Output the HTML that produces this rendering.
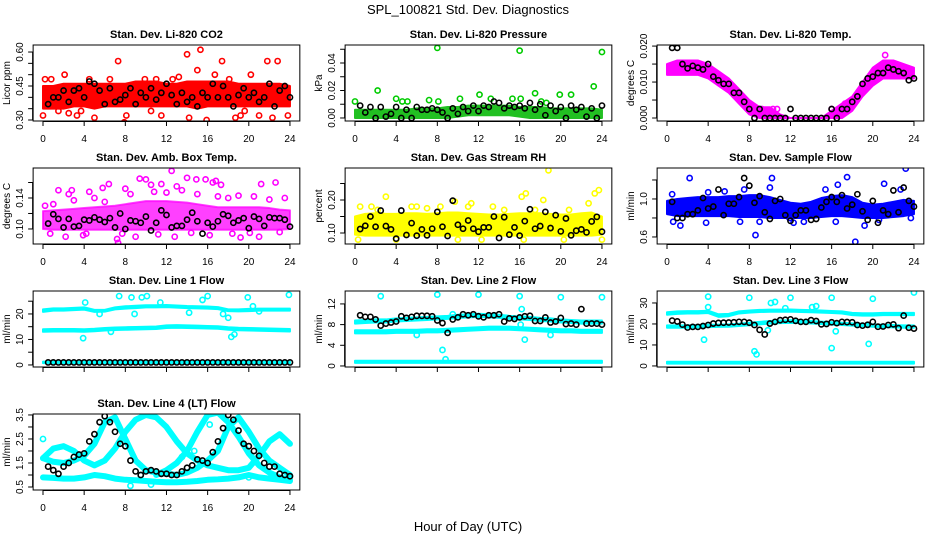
<!DOCTYPE html>
<html><head><meta charset="utf-8"><title>SPL_100821 Std. Dev. Diagnostics</title>
<style>
html,body{margin:0;padding:0;background:#fff;}
svg{display:block;font-family:"Liberation Sans",Arial,sans-serif;}
</style></head>
<body>
<svg id="chart" width="936" height="540" viewBox="0 0 936 540">
<text x="468" y="14" font-size="13" text-anchor="middle">SPL_100821  Std. Dev. Diagnostics</text>
<text x="468" y="531" font-size="13" text-anchor="middle">Hour of Day (UTC)</text>
</svg>
<script>
// ---------- shared data ----------
const blackHours=[0.5,1,1.5,2,2.5,3,3.5,4,4.5,5,5.5,6,6.5,7,7.5,8,8.5,9,9.5,10,10.5,11,11.5,12,12.5,13,13.5,14,14.5,15,15.5,16,16.5,17,17.5,18,18.5,19,19.5,20,20.5,21,21.5,22,22.5,23,23.5,24];
const bandHours=[0,1,2,3,4,5,6,7,8,9,10,11,12,13,14,15,16,17,18,19,20,21,22,23,24];
const xTicks=[0,4,8,12,16,20,24];

// ---------- CO2 ----------
const co2Black=[0.37,0.40,0.40,0.43,0.38,0.43,0.44,0.40,0.47,0.46,0.43,0.37,0.44,0.38,0.39,0.41,0.44,0.37,0.42,0.40,0.44,0.39,0.42,0.46,0.41,0.37,0.42,0.38,0.40,0.36,0.42,0.40,0.46,0.40,0.45,0.40,0.36,0.41,0.44,0.40,0.42,0.38,0.40,0.46,0.36,0.43,0.45,0.40];
const co2Low=[0.35,0.35,0.35,0.36,0.36,0.35,0.36,0.36,0.36,0.36,0.36,0.36,0.36,0.36,0.36,0.35,0.36,0.36,0.36,0.36,0.36,0.36,0.36,0.36,0.36];
const co2High=[0.45,0.45,0.46,0.46,0.46,0.46,0.46,0.46,0.46,0.47,0.47,0.47,0.46,0.46,0.47,0.47,0.47,0.47,0.47,0.46,0.46,0.46,0.46,0.46,0.45];
const co2OutHours=[0,0.2,0.8,2.1,2.5,3.3,5,7.3,7.9,8.1,11.5,13.2,14,14.2,15,15.3,15.9,16.1,16.7,17.4,18.7,19.2,20.2,21,21.8,22.3,22.8,23.8,9.9,11,6.5,4.5,1.5,3.7,10.5,12.6,18.1,19.6];
const co2OutVals=[0.32,0.48,0.48,0.50,0.33,0.32,0.31,0.56,0.29,0.32,0.32,0.49,0.59,0.31,0.52,0.61,0.30,0.65,0.50,0.56,0.31,0.32,0.50,0.32,0.56,0.31,0.56,0.32,0.48,0.48,0.48,0.48,0.34,0.34,0.34,0.48,0.48,0.34];

// ---------- Pressure ----------
const presBlack=[0.009,0.004,0.008,0.000,0.008,0.001,0.003,0.008,0.000,0.006,0.000,0.008,0.006,0.006,0.007,0.006,0.004,0.000,0.007,0.003,0.008,0.005,0.009,0.005,0.009,0.008,0.012,0.011,0.007,0.009,0.008,0.009,0.007,0.011,0.006,0.010,0.002,0.009,0.005,0.008,0.000,0.009,0.006,0.008,0.001,0.007,0.000,0.009];
const presLow=[0,0,0,0,0,0,0,0,0,0,0.001,0.002,0.002,0.002,0.002,0.002,0.001,0,0,0,0,0,0,0,0];
const presHigh=[0.006,0.006,0.006,0.006,0.006,0.006,0.007,0.007,0.007,0.008,0.008,0.009,0.009,0.009,0.009,0.009,0.008,0.008,0.008,0.007,0.007,0.007,0.007,0.007,0.006];
const presOutHours=[0,2.2,4,4.6,5.1,7.2,8,8.1,10.2,12.1,13.2,15.3,16,16.1,17.5,18.1,19.9,21,23.2,24,18.6];
const presOutVals=[0.012,0.020,0.014,0.012,0.012,0.013,0.051,0.012,0.014,0.017,0.014,0.014,0.049,0.014,0.018,0.012,0.017,0.017,0.023,0.048,0.011];

// ---------- Li-820 Temp ----------
const tempBlack=[0.0195,0.0195,0.015,0.0138,0.0145,0.014,0.0135,0.015,0.0115,0.0105,0.0095,0.0095,0.007,0.007,0.0045,0.0025,0,0.0025,0,0,0,0,0,0.0025,0,0,0,0,0,0,0,0.0025,0,0.0025,0.0025,0.0045,0.006,0.0095,0.011,0.0115,0.0125,0.0125,0.014,0.0135,0.013,0.0125,0.0105,0.011];
const tempLow=[0.012,0.012,0.012,0.012,0.011,0.009,0.007,0.004,0.001,0,0,0,0,0,0,0,0,0,0.002,0.006,0.009,0.011,0.011,0.011,0.011];
const tempHigh=[0.015,0.016,0.016,0.016,0.015,0.013,0.011,0.008,0.005,0.003,0.003,0.001,0,0,0,0,0.002,0.004,0.006,0.010,0.014,0.016,0.016,0.015,0.014];
const tempOutHours=[10.3,10.7,16,17.3,18.8,21.2,8.5,9.2];
const tempOutVals=[0.0025,0.0025,0.0025,0.004,0.007,0.0175,0.0025,0.0025];

// ---------- Amb box temp ----------
const ambBlack=[0.107,0.119,0.113,0.102,0.113,0.103,0.104,0.112,0.111,0.115,0.112,0.109,0.114,0.102,0.120,0.100,0.111,0.110,0.108,0.116,0.098,0.108,0.124,0.118,0.102,0.104,0.104,0.112,0.121,0.110,0.094,0.108,0.103,0.110,0.119,0.117,0.108,0.111,0.114,0.101,0.116,0.113,0.104,0.115,0.114,0.114,0.112,0.103];
const ambLow=[0.100,0.099,0.099,0.099,0.099,0.099,0.099,0.099,0.099,0.099,0.099,0.099,0.099,0.099,0.099,0.099,0.099,0.099,0.099,0.099,0.099,0.099,0.099,0.099,0.100];
const ambHigh=[0.123,0.124,0.125,0.126,0.127,0.128,0.129,0.130,0.132,0.134,0.136,0.136,0.136,0.135,0.134,0.132,0.130,0.128,0.128,0.128,0.128,0.128,0.127,0.125,0.124];
const ambOutHours=[1.5,2.5,2.8,4.5,5.8,6.4,7.2,7.3,8,9.4,10,10.5,11.5,12.5,13,14,14.9,15.8,16.5,16.8,17.3,19.2,21.2,22.6,2.2,3.9,16.2,21,9,12.8,0.2,1,3,5,6,8.5,10.8,12,13.5,15,17,18,19,20.5,22,23.5,0.7,4.2,7.7,11.2,14.4,18.4,20.1,23];
const ambOutVals=[0.150,0.145,0.150,0.148,0.153,0.158,0.087,0.082,0.152,0.165,0.164,0.157,0.158,0.175,0.155,0.166,0.164,0.164,0.160,0.162,0.157,0.089,0.158,0.160,0.090,0.092,0.092,0.090,0.090,0.090,0.130,0.132,0.137,0.140,0.135,0.145,0.148,0.147,0.150,0.145,0.142,0.140,0.143,0.142,0.138,0.140,0.094,0.094,0.094,0.093,0.095,0.094,0.095,0.096];

// ---------- Gas stream RH ----------
const rhBlack=[0.112,0.122,0.150,0.119,0.168,0.121,0.111,0.083,0.168,0.094,0.130,0.092,0.111,0.093,0.113,0.164,0.119,0.091,0.198,0.125,0.113,0.138,0.113,0.104,0.117,0.117,0.150,0.085,0.148,0.095,0.117,0.092,0.136,0.172,0.113,0.121,0.164,0.115,0.154,0.105,0.144,0.093,0.107,0.111,0.102,0.135,0.149,0.104];
const rhLow=[0.095,0.092,0.092,0.092,0.092,0.092,0.092,0.092,0.092,0.092,0.092,0.092,0.092,0.092,0.092,0.092,0.092,0.092,0.092,0.092,0.092,0.092,0.092,0.092,0.095];
const rhHigh=[0.150,0.158,0.160,0.158,0.158,0.160,0.160,0.158,0.160,0.162,0.162,0.160,0.158,0.156,0.156,0.158,0.160,0.160,0.160,0.158,0.156,0.156,0.160,0.162,0.150];
const rhOutHours=[0.5,1.6,3,5.5,6,8.3,9.7,11,11.3,13.4,16.2,16.6,17.5,18.3,18.8,22.7,23.3,23.7,0.3,4,10,12.3,16.4,20.3,24,2.2,7,14.5,20.8];
const rhOutVals=[0.18,0.18,0.21,0.18,0.18,0.18,0.195,0.18,0.19,0.18,0.21,0.22,0.17,0.20,0.29,0.19,0.22,0.23,0.08,0.08,0.08,0.08,0.08,0.08,0.08,0.17,0.175,0.17,0.17];

// ---------- Sample flow ----------
const flowBlack=[0.97,0.80,0.80,0.84,0.84,0.88,1.01,0.90,0.92,1.10,0.83,0.95,0.95,1.02,1.22,1.14,0.96,1.03,0.86,0.79,0.98,1.00,0.83,0.77,0.83,0.88,0.88,0.78,0.79,0.91,0.97,1.02,0.97,1.04,0.90,0.94,1.05,0.87,0.78,0.98,0.75,0.88,0.84,1.09,0.86,1.12,0.98,0.92];
const flowLow=[0.84,0.82,0.82,0.82,0.82,0.82,0.82,0.81,0.81,0.81,0.80,0.80,0.80,0.80,0.80,0.81,0.82,0.82,0.81,0.80,0.80,0.80,0.81,0.82,0.84];
const flowHigh=[0.98,1.00,1.01,1.02,1.02,1.02,1.03,1.03,1.04,1.04,1.02,0.99,0.96,0.95,0.97,1.01,1.03,1.04,1.02,0.96,0.94,0.95,0.97,0.99,0.98];
const flowOutHours=[2.2,0.6,1.3,3.8,7.1,8.6,9,10.2,11.9,12.3,16.4,17.5,18.3,19.2,21.1,23.2,22.7,16.6,7.5,10,4,0.5,23.7,5.6,13.3,15.4,20.6];
const flowOutVals=[1.22,0.76,0.72,0.75,0.76,0.62,0.76,1.22,0.80,0.75,0.76,1.23,0.55,0.72,1.16,1.32,1.10,1.15,1.10,1.12,1.07,1.05,0.80,1.08,0.76,1.10,0.78];

// ---------- Line 1 flow ----------
const l1Black=[1.0,1.0,1.0,1.0,1.0,1.0,1.0,1.0,1.0,1.0,1.0,1.0,1.0,1.0,1.0,1.0,1.0,1.0,1.0,1.0,1.0,1.0,1.0,1.0,1.0,1.0,1.0,1.0,1.0,1.0,1.0,1.0,1.0,1.0,1.0,1.0,1.0,1.0,1.0,1.0,1.0,1.0,1.0,1.0,1.0,1.0,1.0,1.0];
const l1LowA=[0.7,0.7,0.7,0.7,0.7,0.7,0.7,0.7,0.7,0.7,0.7,0.7,0.7,0.7,0.7,0.7,0.7,0.7,0.7,0.7,0.7,0.7,0.7,0.7,0.7];
const l1HighA=[1.3,1.3,1.3,1.3,1.3,1.3,1.3,1.3,1.3,1.3,1.3,1.3,1.3,1.3,1.3,1.3,1.3,1.3,1.3,1.3,1.3,1.3,1.3,1.3,1.3];
const l1LowB=[13.0,13.1,13.1,13.1,13.0,13.2,13.5,13.7,13.8,13.9,14.0,14.1,14.5,14.6,14.5,14.4,14.3,14.2,13.8,13.6,13.5,13.4,13.3,13.2,13.1];
const l1HighB=[14.0,14.1,14.1,14.1,14.0,14.2,14.5,14.7,14.8,14.9,15.0,15.1,15.5,15.6,15.5,15.4,15.3,15.2,14.8,14.6,14.5,14.4,14.3,14.2,14.1];
const l1LowC=[20.8,21.3,21.3,21.5,21.7,20.8,20.9,21.8,22.1,22.3,22.6,22.6,22.7,22.5,22.3,22.2,22.1,21.9,21.1,21.0,21.1,21.3,21.3,21.3,21.3];
const l1HighC=[21.8,22.2,22.2,22.4,22.6,21.6,21.6,22.6,23.0,23.2,23.4,23.4,23.5,23.3,23.1,23.0,22.9,22.7,21.8,21.8,22.0,22.1,22.1,22.1,22.1];
const l1OutHours=[3.9,4.1,7.4,8.6,9.6,10.1,11.4,16,17.5,18,18.3,18.6,19.9,20.4,21,23.9,14.2,8.9,15.5,5.5,6.6];
const l1OutVals=[10.5,24.5,27,26.5,26.5,27,24.5,27,20,18.5,11,12,26.5,23,21,27.5,20.5,20,25.5,20,13];

// ---------- Line 2 flow ----------
const l2Black=[9.8,9.5,9.5,9.0,7.8,8.2,8.4,8.6,9.6,9.3,9.5,9.7,9.7,9.7,9.6,8.8,8.3,6.4,9.0,9.4,10.0,9.8,10.0,9.6,9.4,9.8,9.8,10.0,8.6,9.2,9.1,9.4,9.6,9.7,8.7,8.7,9.4,8.4,8.6,9.3,8.1,8.2,8.0,11.0,8.2,8.2,8.2,8.0];
const l2LowA=[0.6,0.6,0.6,0.6,0.6,0.6,0.6,0.6,0.6,0.6,0.6,0.6,0.6,0.6,0.6,0.6,0.6,0.6,0.6,0.6,0.6,0.6,0.6,0.6,0.6];
const l2HighA=[1.0,1.0,1.0,1.0,1.0,1.0,1.0,1.0,1.0,1.0,1.0,1.0,1.0,1.0,1.0,1.0,1.0,1.0,1.0,1.0,1.0,1.0,1.0,1.0,1.0];
const l2LowB=[6.3,6.3,6.3,6.3,6.4,6.4,6.4,6.5,6.5,6.6,6.7,6.8,6.9,7.0,7.0,7.0,6.9,6.8,6.7,6.6,6.5,6.5,6.4,6.4,6.4];
const l2HighB=[6.9,6.9,6.9,6.9,7.0,7.0,7.0,7.1,7.1,7.2,7.3,7.4,7.5,7.6,7.6,7.6,7.5,7.4,7.3,7.2,7.1,7.1,7.0,7.0,7.0];
const l2LowC=[8.2,8.3,8.4,8.4,8.6,8.7,8.8,8.9,9.0,9.1,9.3,9.4,9.5,9.4,9.3,9.1,9.0,8.9,8.7,8.6,8.4,8.3,8.2,8.2,8.2];
const l2HighC=[8.8,8.9,9.0,9.0,9.2,9.3,9.4,9.5,9.6,9.7,9.9,10.0,10.1,10.0,9.9,9.7,9.6,9.5,9.3,9.2,9.0,8.9,8.8,8.8,8.8];
const l2OutHours=[2.5,8,12,16,20,24,16.2,16.5,8.5,8.8,6,19,9.5,16.1];
const l2OutVals=[13.5,13.8,13.8,13.5,13.3,13.3,11,5.1,3.1,1.3,6,6,10,8];

// ---------- Line 3 flow ----------
const l3Black=[21.6,21.2,19.7,18.3,18.6,18.6,19.0,19.5,20.2,20.5,20.6,20.7,20.8,21.0,21.0,20.6,19.5,17.2,15.0,20.2,21.0,21.8,22.0,22.2,21.5,21.0,21.0,21.8,21.4,19.8,20.0,20.8,20.4,21.0,20.9,20.8,19.5,19.2,19.6,21.0,18.7,18.8,19.5,19.8,18.0,24.0,18.2,17.8];
const l3LowA=[1.1,1.1,1.1,1.1,1.1,1.1,1.1,1.1,1.1,1.1,1.1,1.1,1.1,1.1,1.1,1.1,1.1,1.1,1.1,1.1,1.1,1.1,1.1,1.1,1.1];
const l3HighA=[2.0,2.0,2.0,2.0,2.0,2.0,2.0,2.0,2.0,2.0,2.0,2.0,2.0,2.0,2.0,2.0,2.0,2.0,2.0,2.0,2.0,2.0,2.0,2.0,2.0];
const l3LowB=[18.2,18.2,18.2,18.4,18.5,18.6,18.7,19.0,19.4,19.8,20.2,20.4,20.5,20.4,20.2,20.0,19.7,19.5,19.2,19.0,18.7,18.5,18.4,18.2,18.2];
const l3HighB=[19.3,19.3,19.3,19.5,19.6,19.7,19.8,20.1,20.6,21.0,21.4,21.6,21.8,21.6,21.4,21.1,20.8,20.6,20.3,20.1,19.8,19.6,19.5,19.3,19.3];
const l3LowC=[24.4,24.8,25.0,25.0,25.2,23.4,23.7,25.0,25.4,25.7,25.8,25.8,25.9,25.7,25.6,25.4,25.2,25.0,24.2,24.0,24.0,24.2,24.2,24.2,24.2];
const l3HighC=[25.6,26.0,26.1,26.1,26.3,24.6,24.8,26.0,26.4,26.7,26.8,26.8,26.9,26.7,26.6,26.4,26.2,26.0,25.3,25.1,25.1,25.3,25.3,25.3,25.3];
const l3OutHours=[4,8,12,16,20,24,3.6,8.5,8.7,9.8,10.1,10.5,16,16.4,19.6,4,14.1,14.5,11.5];
const l3OutVals=[33,32.5,32.5,32.5,32,35,12.5,7,5.5,17,30,30.5,8.5,16.5,10.5,28,28,28.5,27.5];

// ---------- Line 4 (LT) flow ----------
const l4Black=[1.35,1.2,1.05,1.35,1.5,1.75,1.85,1.9,2.4,2.7,3.2,3.45,3.2,2.8,2.3,2.2,1.6,1.15,1.0,1.15,1.2,1.15,1.05,1.05,1.0,1.0,1.15,1.3,1.4,1.65,1.6,1.5,1.95,2.4,2.95,3.5,3.3,2.85,2.3,2.2,2.0,1.8,1.5,1.35,1.35,1.05,1.0,0.95];
const l4CurveA=[1.7,1.55,1.5,1.6,1.8,2.3,3.2,3.4,2.5,1.6,1.2,1.1,1.05,1.0,1.1,1.3,1.6,2.0,3.0,3.4,2.8,2.1,1.6,1.3,1.0];
const l4CurveB=[1.7,2.1,2.2,2.0,1.6,1.4,1.6,2.1,2.8,3.3,3.5,3.4,3.0,2.4,1.9,1.6,1.4,1.3,1.2,1.2,1.3,1.8,2.4,2.7,2.3];
const l4CurveC=[0.9,0.88,0.85,0.85,0.9,1.0,0.95,0.85,0.8,0.78,0.75,0.72,0.7,0.7,0.72,0.75,0.8,0.82,0.85,0.9,1.0,0.9,0.85,0.8,0.75];
const l4CurveDHours=[11,12,13,14,15,16,17,18,19,20,21,22,23,24];
const l4CurveD=[1.0,1.2,1.5,2.0,2.8,3.5,3.6,3.2,2.6,1.9,1.4,1.1,0.9,0.8];
const l4OutHours=[0,8.5,10.5,14.7,16.2,20,9.5,13.5];
const l4OutVals=[2.5,0.55,0.6,2.0,3.1,0.9,1.0,1.75];

// ---------- layout ----------
const svg=document.getElementById('chart');
const NS='http://www.w3.org/2000/svg';
const ROW_TOP=[45,168,291,414], BOX_H=76;
function xPix(col,h){return 43+col*312+h*10.29;}
function mk(tag,attrs,parent){const e=document.createElementNS(NS,tag);for(const k in attrs)e.setAttribute(k,attrs[k]);(parent||svg).appendChild(e);return e;}

function makePanel(p){
  const g=mk('g',{});
  
  
  const top=ROW_TOP[p.row], bot=top+BOX_H;
  const yPix=v=>top+(p.dom[1]-v)/(p.dom[1]-p.dom[0])*BOX_H;
  const left=xPix(p.col,-0.96), right=xPix(p.col,24.96);
  const ctx={g,yPix,x:h=>xPix(p.col,h),top,bot,left,right};
  const t=mk('text',{x:(left+right)/2,y:top-7,'font-size':11,'font-weight':'bold','text-anchor':'middle'},g);
  t.textContent=p.title;
  
  
  const yl=mk('text',{x:0,y:0,'font-size':10,'text-anchor':'middle',transform:`translate(${left-23},${(top+bot)/2}) rotate(-90)`},g);
  yl.textContent=p.ylab;
  
  
  const ya=mk('g',{},g);
  
  
  mk('line',{x1:left-0.5,x2:left-0.5,y1:yPix(p.ticks[0]),y2:yPix(p.ticks[p.ticks.length-1]),stroke:'#000','stroke-width':1},ya);
  p.ticks.forEach((v,i)=>{
    const y=yPix(v);
    mk('line',{x1:left-5,x2:left,y1:y,y2:y,stroke:'#000','stroke-width':1},ya);
    if(p.labels[i]){
      const tl=mk('text',{x:0,y:0,'font-size':10,'text-anchor':'middle',transform:`translate(${left-10},${y}) rotate(-90)`},ya);
      tl.textContent=p.labels[i];
      
      
    }
  });
  const xa=mk('g',{},g);
  
  
  mk('line',{x1:ctx.x(0),x2:ctx.x(24),y1:bot+0.5,y2:bot+0.5,stroke:'#000','stroke-width':1},xa);
  xTicks.forEach(h=>{
    mk('line',{x1:ctx.x(h),x2:ctx.x(h),y1:bot,y2:bot+5,stroke:'#000','stroke-width':1},xa);
    if(p.xlabels){
      const tl=mk('text',{x:ctx.x(h),y:bot+21,'font-size':10,'text-anchor':'middle'},xa);
      tl.textContent=String(h);
      
      
    }
  });
  const cid='clip-'+p.name;
  const cp=mk('clipPath',{id:cid},g);
  mk('rect',{x:left,y:top,width:right-left,height:BOX_H},cp);
  ctx.plot=mk('g',{'clip-path':`url(#${cid})`},g);
  
  
  ctx.finish=()=>{
    const b=mk('rect',{x:left,y:top,width:right-left,height:BOX_H,fill:'none',stroke:'#000','stroke-width':1},g);
    
    
  };
  return ctx;
}
function band(ctx,hours,low,high,color,name,op){
  const pts=hours.map((h,i)=>ctx.x(h)+','+ctx.yPix(high[i]));
  for(let i=hours.length-1;i>=0;i--)pts.push(ctx.x(hours[i])+','+ctx.yPix(low[i]));
  const pg=mk('polygon',{points:pts.join(' '),fill:color,'fill-opacity':op||1,stroke:color,'stroke-opacity':op||1,'stroke-width':2,'stroke-linejoin':'round'},ctx.plot);
  
  
}
function curve(ctx,hours,vals,color,name){
  const pl=mk('polyline',{points:hours.map((h,i)=>ctx.x(h)+','+ctx.yPix(vals[i])).join(' '),fill:'none',stroke:color,'stroke-width':6,'stroke-linejoin':'round','stroke-linecap':'round'},ctx.plot);
  
  
}
function points(ctx,hours,vals,color,name){
  const pg=mk('g',{},ctx.plot);
  
  
  hours.forEach((h,i)=>{
    const c=mk('circle',{cx:ctx.x(h),cy:ctx.yPix(vals[i]),r:2.6,fill:'none',stroke:color,'stroke-width':1.6},pg);
    
    
  });
}

let c=makePanel({name:'co2',col:0,row:0,title:'Stan. Dev. Li-820 CO2',ylab:'Licor ppm',dom:[0.2956,0.631],ticks:[0.30,0.35,0.40,0.45,0.50,0.55,0.60],labels:['0.30','','','0.45','','','0.60'],xlabels:true});
band(c,bandHours,co2Low,co2High,'#ff0000','co2-band');
points(c,co2OutHours,co2OutVals,'#ff0000','co2-outliers');
points(c,blackHours,co2Black,'#000000','co2-black-points');
c.finish();
c=makePanel({name:'pressure',col:1,row:0,title:'Stan. Dev. Li-820 Pressure',ylab:'kPa',dom:[-0.0022,0.0531],ticks:[0,0.01,0.02,0.03,0.04,0.05],labels:['0.00','','0.02','','0.04',''],xlabels:true});
band(c,bandHours,presLow,presHigh,'#22c022','pressure-band');
points(c,presOutHours,presOutVals,'#00cc00','pressure-outliers');
points(c,blackHours,presBlack,'#000000','pressure-black-points');
c.finish();
c=makePanel({name:'li820-temp',col:2,row:0,title:'Stan. Dev. Li-820 Temp.',ylab:'degrees C',dom:[-0.00083,0.0203],ticks:[0,0.005,0.010,0.015,0.020],labels:['0.000','','0.010','','0.020'],xlabels:true});
band(c,bandHours,tempLow,tempHigh,'#ff00ff','temp-band');
points(c,tempOutHours,tempOutVals,'#ff00ff','temp-outliers');
points(c,blackHours,tempBlack,'#000000','temp-black-points');
c.finish();
c=makePanel({name:'amb-box-temp',col:0,row:1,title:'Stan. Dev. Amb. Box Temp.',ylab:'degrees C',dom:[0.0806,0.1787],ticks:[0.10,0.12,0.14,0.16],labels:['0.10','','0.14',''],xlabels:true});
band(c,bandHours,ambLow,ambHigh,'#ff00ff','amb-band',0.75);
points(c,ambOutHours,ambOutVals,'#ff00ff','amb-outliers');
points(c,blackHours,ambBlack,'#000000','amb-black-points');
c.finish();
c=makePanel({name:'gas-rh',col:1,row:1,title:'Stan. Dev. Gas Stream RH',ylab:'percent',dom:[0.0667,0.297],ticks:[0.10,0.15,0.20,0.25],labels:['0.10','','0.20',''],xlabels:true});
band(c,bandHours,rhLow,rhHigh,'#ffff00','rh-band');
points(c,rhOutHours,rhOutVals,'#ffff00','rh-outliers');
points(c,blackHours,rhBlack,'#000000','rh-black-points');
c.finish();
c=makePanel({name:'sample-flow',col:2,row:1,title:'Stan. Dev. Sample Flow',ylab:'ml/min',dom:[0.526,1.326],ticks:[0.6,0.8,1.0,1.2],labels:['0.6','','1.0',''],xlabels:true});
band(c,bandHours,flowLow,flowHigh,'#0000ff','flow-band');
points(c,flowOutHours,flowOutVals,'#0000ff','flow-outliers');
points(c,blackHours,flowBlack,'#000000','flow-black-points');
c.finish();
c=makePanel({name:'line1-flow',col:0,row:2,title:'Stan. Dev. Line 1 Flow',ylab:'ml/min',dom:[-0.8,29.0],ticks:[0,5,10,15,20,25],labels:['0','','10','','20',''],xlabels:false});
band(c,bandHours,l1LowA,l1HighA,'#00ffff','line1-band-low');
band(c,bandHours,l1LowB,l1HighB,'#00ffff','line1-band-mid');
band(c,bandHours,l1LowC,l1HighC,'#00ffff','line1-band-high');
points(c,l1OutHours,l1OutVals,'#00ffff','line1-outliers');
points(c,blackHours,l1Black,'#000000','line1-black-points');
c.finish();
c=makePanel({name:'line2-flow',col:1,row:2,title:'Stan. Dev. Line 2 Flow',ylab:'ml/min',dom:[-0.2,14.5],ticks:[0,4,8,12],labels:['0','4','8','12'],xlabels:false});
band(c,bandHours,l2LowA,l2HighA,'#00ffff','line2-band-low');
band(c,bandHours,l2LowB,l2HighB,'#00ffff','line2-band-mid');
band(c,bandHours,l2LowC,l2HighC,'#00ffff','line2-band-high');
points(c,l2OutHours,l2OutVals,'#00ffff','line2-outliers');
points(c,blackHours,l2Black,'#000000','line2-black-points');
c.finish();
c=makePanel({name:'line3-flow',col:2,row:2,title:'Stan. Dev. Line 3 Flow',ylab:'ml/min',dom:[-0.5,35.7],ticks:[0,10,20,30],labels:['0','10','20','30'],xlabels:false});
band(c,bandHours,l3LowA,l3HighA,'#00ffff','line3-band-low');
band(c,bandHours,l3LowB,l3HighB,'#00ffff','line3-band-mid');
band(c,bandHours,l3LowC,l3HighC,'#00ffff','line3-band-high');
points(c,l3OutHours,l3OutVals,'#00ffff','line3-outliers');
points(c,blackHours,l3Black,'#000000','line3-black-points');
c.finish();
c=makePanel({name:'line4-flow',col:0,row:3,title:'Stan. Dev. Line 4 (LT) Flow',ylab:'ml/min',dom:[0.375,3.54],ticks:[0.5,1.0,1.5,2.0,2.5,3.0,3.5],labels:['0.5','','1.5','','2.5','','3.5'],xlabels:true});
curve(c,bandHours,l4CurveA,'#00ffff','line4-curve-a');
curve(c,bandHours,l4CurveB,'#00ffff','line4-curve-b');
curve(c,bandHours,l4CurveC,'#00ffff','line4-curve-c');
curve(c,l4CurveDHours,l4CurveD,'#00ffff','line4-curve-d');
points(c,l4OutHours,l4OutVals,'#00ffff','line4-outliers');
points(c,blackHours,l4Black,'#000000','line4-black-points');
c.finish();
</script>
</body></html>
